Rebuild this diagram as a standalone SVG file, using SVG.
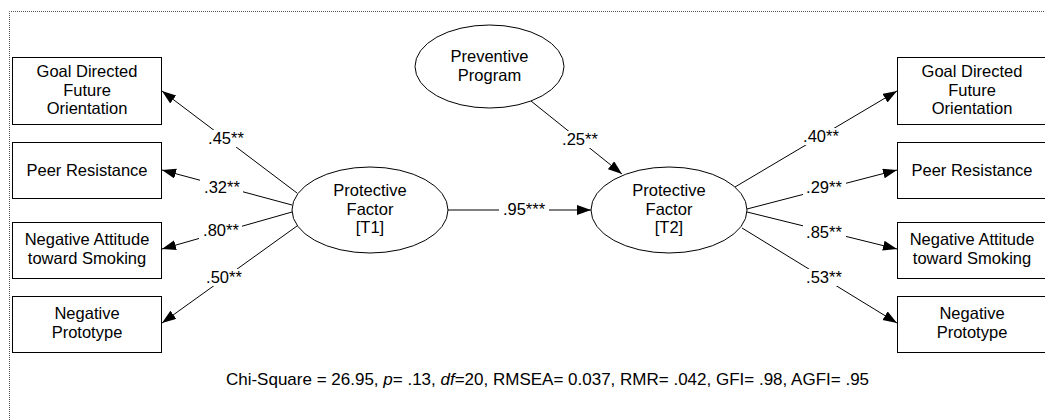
<svg xmlns="http://www.w3.org/2000/svg" width="1045" height="420" viewBox="0 0 1045 420">
<defs>
<marker id="ah" markerUnits="userSpaceOnUse" markerWidth="15" markerHeight="11" refX="14" refY="5" orient="auto">
<path d="M0,0 L14,5 L0,10 z" fill="#000"/>
</marker>
<style>
text{font-family:"Liberation Sans",Arial,sans-serif;font-size:16.5px;fill:#000;text-anchor:middle}
.box{fill:#fff;stroke:#000;stroke-width:1}
.ell{fill:#fff;stroke:#000;stroke-width:1}
.ln{stroke:#000;stroke-width:1;fill:none;marker-end:url(#ah)}
.bg{fill:#fff}
.border{fill:none;stroke:#555;stroke-width:1;stroke-dasharray:1 1}
</style>
</defs>
<rect width="1045" height="420" fill="#fff"/>
<path class="border" d="M9.5,420 V11.5 H1045"/>

<g id="connectors">
<line class="ln" x1="297" y1="193" x2="162" y2="91"/>
<line class="ln" x1="292" y1="205" x2="162" y2="170"/>
<line class="ln" x1="292" y1="212" x2="162" y2="249"/>
<line class="ln" x1="297" y1="226" x2="162" y2="323"/>
<line class="ln" x1="448" y1="210" x2="591" y2="210"/>
<line class="ln" x1="531" y1="101" x2="622" y2="174"/>
<line class="ln" x1="735" y1="187" x2="897" y2="91"/>
<line class="ln" x1="747" y1="209" x2="897" y2="170"/>
<line class="ln" x1="747" y1="212" x2="897" y2="249"/>
<line class="ln" x1="742" y1="228" x2="897" y2="323"/>
<rect class="bg" x="204" y="130" width="43" height="17"/>
<text x="226" y="144">.45**</text>
<rect class="bg" x="200" y="179" width="43" height="17"/>
<text x="222" y="193">.32**</text>
<rect class="bg" x="199" y="222" width="43" height="17"/>
<text x="221" y="236">.80**</text>
<rect class="bg" x="202" y="269" width="43" height="17"/>
<text x="224" y="283">.50**</text>
<rect class="bg" x="499" y="201" width="50" height="17"/>
<text x="524" y="215">.95***</text>
<rect class="bg" x="558" y="131" width="43" height="17"/>
<text x="580" y="145">.25**</text>
<rect class="bg" x="800" y="128" width="43" height="17"/>
<text x="821" y="142">.40**</text>
<rect class="bg" x="803" y="179" width="43" height="17"/>
<text x="824" y="193">.29**</text>
<rect class="bg" x="803" y="224" width="43" height="17"/>
<text x="824" y="238">.85**</text>
<rect class="bg" x="803" y="269" width="43" height="17"/>
<text x="824" y="283">.53**</text>
</g>

<g id="left-goal">
<rect class="box" x="12.5" y="57.5" width="149" height="67"/>
<text x="87" y="77">Goal Directed</text>
<text x="87" y="96">Future</text>
<text x="87" y="114">Orientation</text>
</g>
<g id="left-peer">
<rect class="box" x="12.5" y="142.5" width="149" height="56"/>
<text x="87" y="176">Peer Resistance</text>
</g>
<g id="left-attitude">
<rect class="box" x="12.5" y="222.5" width="149" height="56"/>
<text x="87" y="245">Negative Attitude</text>
<text x="87" y="264">toward Smoking</text>
</g>
<g id="left-prototype">
<rect class="box" x="12.5" y="296.5" width="149" height="56"/>
<text x="87" y="319">Negative</text>
<text x="87" y="338">Prototype</text>
</g>

<g id="right-goal">
<rect class="box" x="897.5" y="57.5" width="149" height="67"/>
<text x="972" y="77">Goal Directed</text>
<text x="972" y="96">Future</text>
<text x="972" y="114">Orientation</text>
</g>
<g id="right-peer">
<rect class="box" x="897.5" y="142.5" width="149" height="56"/>
<text x="972" y="176">Peer Resistance</text>
</g>
<g id="right-attitude">
<rect class="box" x="897.5" y="222.5" width="149" height="56"/>
<text x="972" y="245">Negative Attitude</text>
<text x="972" y="264">toward Smoking</text>
</g>
<g id="right-prototype">
<rect class="box" x="897.5" y="296.5" width="149" height="56"/>
<text x="972" y="319">Negative</text>
<text x="972" y="338">Prototype</text>
</g>

<g id="preventive">
<ellipse class="ell" cx="489.5" cy="66.5" rx="74.5" ry="41.5"/>
<text x="489.5" y="62">Preventive</text>
<text x="489.5" y="81">Program</text>
</g>
<g id="protective-t1">
<ellipse class="ell" cx="370" cy="210" rx="78" ry="43"/>
<text x="370" y="196">Protective</text>
<text x="370" y="215">Factor</text>
<text x="370" y="233">[T1]</text>
</g>
<g id="protective-t2">
<ellipse class="ell" cx="669" cy="210" rx="78" ry="43"/>
<text x="669" y="196">Protective</text>
<text x="669" y="215">Factor</text>
<text x="669" y="233">[T2]</text>
</g>

<g id="footer">
<text x="547.5" y="385" style="font-size:17px">Chi-Square = 26.95, <tspan font-style="italic">p</tspan>= .13, <tspan font-style="italic">df</tspan>=20, RMSEA= 0.037, RMR= .042, GFI= .98, AGFI= .95</text>
</g>
</svg>
